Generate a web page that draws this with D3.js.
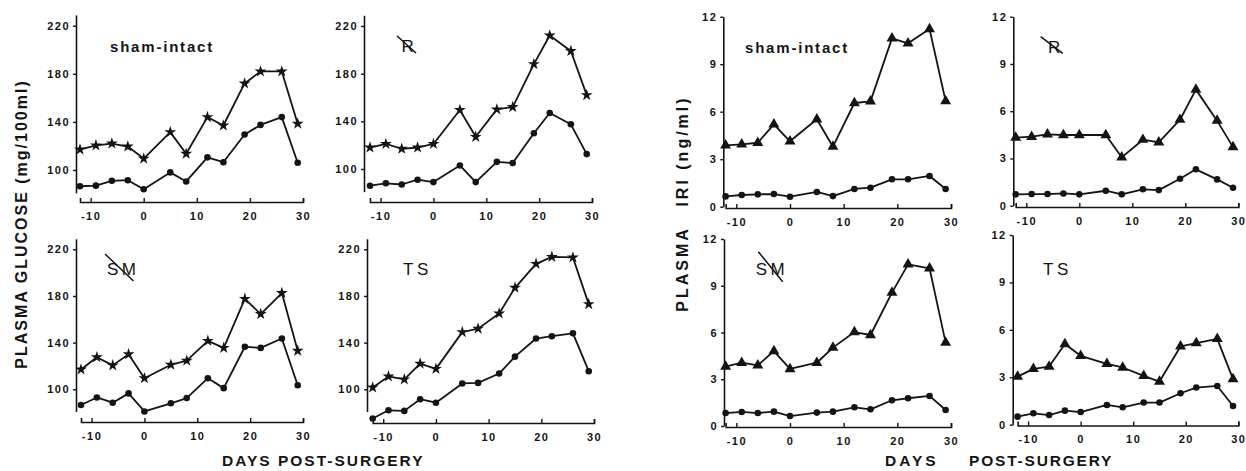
<!DOCTYPE html>
<html>
<head>
<meta charset="utf-8">
<script src="https://cdn.jsdelivr.net/npm/d3@7"></script>
<style>
  html, body { margin: 0; padding: 0; background: #fff; }
  svg { display: block; font-family: "Liberation Sans", Arial, Helvetica, sans-serif; }
</style>
</head>
<body>
<svg id="chart" width="1246" height="471"></svg>
<script>
// ---------- DATA ----------
const days = [-12, -9, -6, -3, 0, 5, 8, 12, 15, 19, 22, 26, 29];
const xTickValues = [-10, 0, 10, 20, 30];
const xTickLabels = ["-10", "0", "10", "20", "30"];
const glucoseTicks = [100, 140, 180, 220];
const iriTicks = [0, 3, 6, 9, 12];
const groupNames = ["sham-intact", "R", "SM", "TS"];

// Plasma glucose (mg/100ml): upper (stars) and lower (circles) series
const gluShamHigh = [117, 120.5, 122, 119.5, 109.5, 131.5, 113.5, 144, 137, 172, 182, 182, 138.5];
const gluShamLow  = [86.5, 87, 91, 91.5, 84, 98, 90.5, 110.5, 106.5, 129.5, 137.5, 144, 106];
const gluRHigh    = [118, 121, 117, 118, 121, 149.5, 127, 150, 152, 188, 212, 199, 162];
const gluRLow     = [86, 88, 87, 91, 89, 103, 89, 106, 105, 130, 147, 137.5, 112.5];
const gluSMHigh   = [117, 127.5, 120.5, 130, 109.5, 121, 124.5, 141.5, 135.5, 177.5, 164.5, 182.5, 133];
const gluSMLow    = [86.5, 93, 88.5, 96.5, 81, 88, 92.5, 109.5, 101, 136.5, 135.5, 143.5, 103.5];
const gluTSHigh   = [101.5, 111, 108.5, 122, 117.5, 149, 152, 165, 187, 207.5, 213.5, 213, 173];
const gluTSLow    = [75, 82, 81.5, 91.5, 88.5, 105, 105.5, 113.5, 128, 143.5, 145.5, 148, 115.5];

// Plasma IRI (ng/ml): upper (triangles) and lower (circles) series
const iriShamHigh = [3.87, 3.94, 4.04, 5.2, 4.13, 5.52, 3.79, 6.55, 6.65, 10.63, 10.32, 11.22, 6.67];
const iriShamLow  = [0.65, 0.74, 0.78, 0.8, 0.63, 0.93, 0.67, 1.12, 1.2, 1.73, 1.73, 1.94, 1.12];
const iriRHigh    = [4.32, 4.38, 4.53, 4.49, 4.49, 4.49, 3.07, 4.19, 4.02, 5.46, 7.37, 5.4, 3.72];
const iriRLow     = [0.72, 0.74, 0.74, 0.78, 0.72, 0.95, 0.72, 1.04, 0.99, 1.71, 2.31, 1.67, 1.14];
const iriSMHigh   = [3.81, 4.06, 3.89, 4.81, 3.66, 4.06, 5.03, 6.03, 5.84, 8.56, 10.37, 10.12, 5.35];
const iriSMLow    = [0.83, 0.9, 0.83, 0.92, 0.64, 0.86, 0.92, 1.2, 1.07, 1.65, 1.78, 1.93, 1.03];
const iriTSHigh   = [3.04, 3.53, 3.68, 5.1, 4.36, 3.85, 3.62, 3.09, 2.73, 4.95, 5.16, 5.43, 2.88];
const iriTSLow    = [0.51, 0.72, 0.61, 0.89, 0.8, 1.25, 1.1, 1.4, 1.4, 1.99, 2.35, 2.45, 1.18];

// ---------- LAYOUT ----------
const INK = "#141414";
const svg = d3.select("#chart");

const panels = [
  // glucose
  { high: gluShamHigh, low: gluShamLow, marker: d3.symbolStar, name: 0, yAxisX: 76, xr: [80, 303], ref: [100, 220], refPx: [170, 25.7], ext: [81, 229], ticks: glucoseTicks, xAxisY: 202,
    label: { x: 110, y: 52, bold: true } },
  { high: gluRHigh, low: gluRLow, marker: d3.symbolStar, name: 1, yAxisX: 364, xr: [370, 592], ref: [100, 220], refPx: [169, 26], ext: [81, 229], ticks: glucoseTicks, xAxisY: 202,
    label: { x: 401.5, y: 52, slash: [397, 36, 416, 53] } },
  { high: gluSMHigh, low: gluSMLow, marker: d3.symbolStar, name: 2, yAxisX: 76, xr: [81, 303], ref: [100, 220], refPx: [389.3, 249.3], ext: [81, 229], ticks: glucoseTicks, xAxisY: 422,
    label: { x: 107, y: 275, slash: [105, 254, 133.5, 281] } },
  { high: gluTSHigh, low: gluTSLow, marker: d3.symbolStar, name: 3, yAxisX: 367, xr: [372.7, 594], ref: [100, 220], refPx: [389.3, 249.3], ext: [81, 229], ticks: glucoseTicks, xAxisY: 423,
    label: { x: 403, y: 275 } },
  // IRI
  { high: iriShamHigh, low: iriShamLow, marker: d3.symbolTriangle, name: 0, yAxisX: 723.3, xr: [725.6, 951], ref: [0, 12], refPx: [206.7, 16.7], ext: [0, 12], ticks: iriTicks, xAxisY: 208,
    label: { x: 745, y: 52.5, bold: true } },
  { high: iriRHigh, low: iriRLow, marker: d3.symbolTriangle, name: 1, yAxisX: 1013.3, xr: [1015.7, 1238.3], ref: [0, 12], refPx: [205.7, 16.7], ext: [0, 12], ticks: iriTicks, xAxisY: 207,
    label: { x: 1048, y: 52.7, slash: [1040.7, 36.7, 1062.7, 53.3] } },
  { high: iriSMHigh, low: iriSMLow, marker: d3.symbolTriangle, name: 2, yAxisX: 724, xr: [725.6, 951], ref: [0, 12], refPx: [426, 239], ext: [0, 12], ticks: iriTicks, xAxisY: 427,
    label: { x: 755.7, y: 275, slash: [758.3, 251.7, 782.7, 281.7] } },
  { high: iriTSHigh, low: iriTSLow, marker: d3.symbolTriangle, name: 3, yAxisX: 1012.7, xr: [1017.6, 1238.3], ref: [0, 12], refPx: [424.7, 235], ext: [0, 12], ticks: iriTicks, xAxisY: 425.5,
    label: { x: 1043, y: 275 } }
];

function styleAxis(g) {
  g.select(".domain").attr("stroke", INK).attr("stroke-width", 1.6);
  g.selectAll(".tick line").attr("stroke", INK).attr("stroke-width", 1.4);
  g.selectAll(".tick text")
    .attr("fill", INK)
    .style("font-size", "11px")
    .style("font-weight", "bold")
    .style("letter-spacing", "1.5px");
}

panels.forEach(p => {
  const g = svg.append("g");
  const x = d3.scaleLinear().domain([-12, 30]).range(p.xr);
  const ref = d3.scaleLinear().domain(p.ref).range(p.refPx);
  const y = d3.scaleLinear().domain(p.ext).range(p.ext.map(ref));

  // y axis
  g.append("g")
    .attr("transform", `translate(${p.yAxisX},0)`)
    .call(d3.axisLeft(y).tickValues(p.ticks).tickFormat(d3.format("d")).tickSize(3).tickPadding(3).tickSizeOuter(0))
    .call(styleAxis);

  // x axis
  g.append("g")
    .attr("transform", `translate(0,${p.xAxisY})`)
    .call(d3.axisBottom(x).tickValues(xTickValues).tickFormat((d, i) => xTickLabels[i]).tickSize(-4).tickSizeOuter(-4).tickPadding(10))
    .call(styleAxis);

  const line = d3.line().x(d => x(d[0])).y(d => y(d[1]));
  [[p.high, p.marker, p.marker === d3.symbolStar ? 44 : 52], [p.low, d3.symbolCircle, 34]].forEach(([vals, sym, size]) => {
    const pts = days.map((d, i) => [d, vals[i]]);
    g.append("path").datum(pts)
      .attr("d", line).attr("fill", "none").attr("stroke", INK)
      .attr("stroke-width", 1.8).attr("stroke-linejoin", "round");
    g.selectAll(null).data(pts).enter().append("path")
      .attr("transform", d => `translate(${x(d[0])},${y(d[1])})`)
      .attr("d", d3.symbol().type(sym).size(size))
      .attr("fill", INK);
  });

  // panel label
  const L = p.label;
  const name = groupNames[p.name];
  g.append("text")
    .attr("x", L.x).attr("y", L.y)
    .attr("fill", INK)
    .style("font-size", L.bold ? "15px" : "17px")
    .style("font-weight", L.bold ? "bold" : "normal")
    .style("letter-spacing", L.bold ? "1.8px" : "3.5px")
    .text(name);
  if (L.slash) {
    g.append("line")
      .attr("x1", L.slash[0]).attr("y1", L.slash[1])
      .attr("x2", L.slash[2]).attr("y2", L.slash[3])
      .attr("stroke", INK).attr("stroke-width", 1.5);
  }
});

// ---------- AXIS TITLES ----------
function vtext(x, y, txt, spacing) {
  svg.append("text")
    .attr("transform", `translate(${x},${y}) rotate(-90)`)
    .attr("text-anchor", "middle").attr("dy", "0.36em")
    .attr("fill", INK)
    .style("font-size", "16px").style("font-weight", "bold")
    .style("letter-spacing", spacing + "px")
    .text(txt);
}
vtext(21.5, 224, "PLASMA GLUCOSE (mg/100ml)", 2);
vtext(682, 269, "PLASMA", 3);
vtext(682, 151, "IRI (ng/ml)", 3);

function htext(x, y, txt, spacing, anchor) {
  svg.append("text")
    .attr("x", x).attr("y", y)
    .attr("text-anchor", anchor)
    .attr("fill", INK)
    .style("font-size", "15.5px").style("font-weight", "bold")
    .style("letter-spacing", spacing + "px")
    .text(txt);
}
htext(222, 466, "DAYS POST-SURGERY", 2, "start");
htext(885, 466, "DAYS", 3, "start");
htext(969, 466, "POST-SURGERY", 1.8, "start");
</script>
</body>
</html>
